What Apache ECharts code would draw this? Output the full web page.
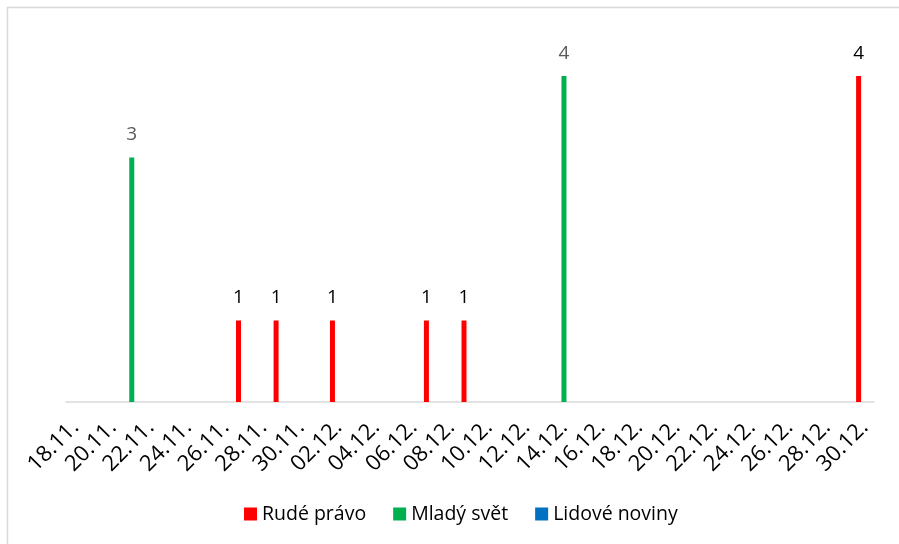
<!DOCTYPE html>
<html>
<head>
    <meta charset="utf-8">
    <title>ECharts</title>
    <script src="https://cdn.jsdelivr.net/npm/echarts@6/dist/echarts.min.js"></script>
    <style>
        html, body { margin: 0; padding: 0; background: #fff; }
    </style>
</head>
<body>
    <div id="main" style="width: 899px;height:544px;"></div>

    <script type="text/javascript">
        // dny 18.11. - 30.12.
        var days = [
            '18.11.', '19.11.', '20.11.', '21.11.', '22.11.', '23.11.', '24.11.', '25.11.',
            '26.11.', '27.11.', '28.11.', '29.11.', '30.11.', '01.12.', '02.12.', '03.12.',
            '04.12.', '05.12.', '06.12.', '07.12.', '08.12.', '09.12.', '10.12.', '11.12.',
            '12.12.', '13.12.', '14.12.', '15.12.', '16.12.', '17.12.', '18.12.', '19.12.',
            '20.12.', '21.12.', '22.12.', '23.12.', '24.12.', '25.12.', '26.12.', '27.12.',
            '28.12.', '29.12.', '30.12.'
        ];

        var rudePravo = [['27.11.', 1], ['29.11.', 1], ['02.12.', 1], ['07.12.', 1], ['09.12.', 1], ['30.12.', 4]];
        var mladySvet = [['21.11.', 3], ['14.12.', 4]];
        var lidoveNoviny = [];

        var font = 'Open Sans';

        var myChart = echarts.init(document.getElementById('main'));

        function barSeries(name, color, labelColor, data) {
            return {
                name: name,
                type: 'bar',
                barWidth: 5,
                barGap: '20%',
                itemStyle: { color: color },
                label: {
                    show: true,
                    position: 'top',
                    distance: 13,
                    color: labelColor,
                    fontFamily: font,
                    fontSize: 19
                },
                data: data
            };
        }

        var option = {
            animation: false,
            backgroundColor: '#fff',
            graphic: [{
                type: 'rect',
                shape: { x: 7.5, y: 7.5, width: 1000, height: 1000 },
                style: { fill: 'none', stroke: '#d9d9d9', lineWidth: 1.5 },
                silent: true
            }],
            legend: {
                bottom: 15,
                left: 239,
                itemWidth: 13,
                itemHeight: 13,
                itemGap: 27,
                icon: 'rect',
                textStyle: { fontFamily: font, fontSize: 19.5, color: '#000' },
                data: ['Rudé právo', 'Mladý svět', 'Lidové noviny']
            },
            grid: {
                left: 66,
                right: 25,
                top: 76,
                bottom: 142
            },
            xAxis: {
                type: 'category',
                data: days,
                axisLine: { lineStyle: { color: '#d9d9d9', width: 1.5 } },
                axisTick: { show: false },
                axisLabel: {
                    interval: 1,
                    rotate: 45,
                    margin: 22,
                    color: '#000',
                    fontFamily: font,
                    fontSize: 22
                }
            },
            yAxis: {
                type: 'value',
                min: 0,
                max: 4,
                show: false
            },
            series: [
                barSeries('Rudé právo', '#ff0000', '#000000', rudePravo),
                barSeries('Mladý svět', '#00b050', '#595959', mladySvet),
                barSeries('Lidové noviny', '#0070c0', '#595959', lidoveNoviny)
            ]
        };

        myChart.setOption(option);
    </script>
</body>
</html>
